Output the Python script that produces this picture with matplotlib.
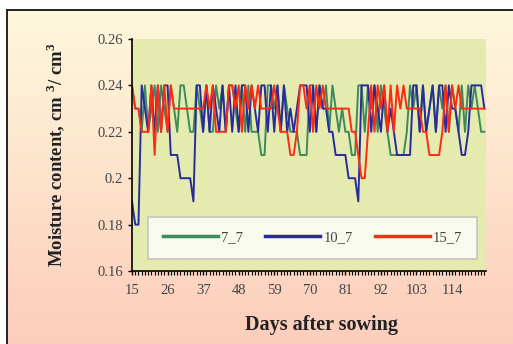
import numpy as np
import matplotlib
matplotlib.use("Agg")
import matplotlib.pyplot as plt

plt.rcParams['font.family'] = ['Liberation Serif', 'DejaVu Serif']
plt.rcParams['mathtext.fontset'] = 'custom'
plt.rcParams['mathtext.rm'] = 'Liberation Serif:bold'

# Soil moisture readings, one per day from day 15 onwards
days = list(range(15, 125))
tick_days = [15, 26, 37, 48, 59, 70, 81, 92, 103, 114]

m_7_7 = [
    0.24, 0.23, 0.23, 0.22, 0.24, 0.22, 0.23, 0.24, 0.22, 0.24,
    0.23, 0.22, 0.24, 0.23, 0.22, 0.24, 0.24, 0.23, 0.22, 0.22,
    0.24, 0.23, 0.22, 0.24, 0.22, 0.22, 0.24, 0.23, 0.24, 0.22,
    0.24, 0.24, 0.23, 0.22, 0.24, 0.22, 0.24, 0.22, 0.22, 0.22,
    0.21, 0.21, 0.24, 0.24, 0.23, 0.24, 0.22, 0.24, 0.23, 0.22,
    0.22, 0.22, 0.21, 0.21, 0.21, 0.24, 0.24, 0.22, 0.24, 0.23,
    0.24, 0.22, 0.24, 0.23, 0.22, 0.23, 0.22, 0.22, 0.21, 0.21,
    0.24, 0.24, 0.22, 0.24, 0.23, 0.24, 0.22, 0.24, 0.23, 0.22,
    0.21, 0.21, 0.21, 0.21, 0.21, 0.22, 0.24, 0.23, 0.24, 0.22,
    0.24, 0.22, 0.23, 0.24, 0.22, 0.24, 0.23, 0.24, 0.22, 0.24,
    0.23, 0.22, 0.24, 0.22, 0.24, 0.23, 0.24, 0.23, 0.22, 0.22,
]

m_10_7 = [
    0.19, 0.18, 0.18, 0.24, 0.23, 0.22, 0.24, 0.22, 0.24, 0.22,
    0.24, 0.24, 0.21, 0.21, 0.21, 0.20, 0.20, 0.20, 0.20, 0.19,
    0.24, 0.24, 0.22, 0.24, 0.22, 0.24, 0.23, 0.22, 0.24, 0.22,
    0.24, 0.22, 0.24, 0.22, 0.24, 0.24, 0.22, 0.24, 0.23, 0.22,
    0.24, 0.24, 0.22, 0.24, 0.22, 0.24, 0.22, 0.24, 0.22, 0.23,
    0.22, 0.23, 0.24, 0.24, 0.24, 0.22, 0.24, 0.22, 0.24, 0.23,
    0.23, 0.22, 0.22, 0.21, 0.21, 0.21, 0.21, 0.20, 0.20, 0.20,
    0.19, 0.24, 0.24, 0.24, 0.22, 0.24, 0.23, 0.22, 0.24, 0.22,
    0.23, 0.22, 0.21, 0.21, 0.21, 0.21, 0.21, 0.24, 0.24, 0.22,
    0.24, 0.22, 0.23, 0.24, 0.22, 0.24, 0.24, 0.22, 0.24, 0.23,
    0.23, 0.22, 0.21, 0.21, 0.22, 0.24, 0.24, 0.24, 0.24, 0.23,
]

m_15_7 = [
    0.24, 0.23, 0.23, 0.22, 0.22, 0.22, 0.24, 0.21, 0.24, 0.22,
    0.24, 0.22, 0.24, 0.23, 0.23, 0.23, 0.23, 0.23, 0.23, 0.23,
    0.23, 0.23, 0.23, 0.24, 0.23, 0.24, 0.22, 0.22, 0.22, 0.22,
    0.24, 0.24, 0.23, 0.24, 0.22, 0.24, 0.23, 0.24, 0.23, 0.24,
    0.23, 0.23, 0.23, 0.23, 0.24, 0.23, 0.22, 0.22, 0.22, 0.21,
    0.21, 0.22, 0.24, 0.24, 0.23, 0.24, 0.22, 0.24, 0.23, 0.24,
    0.23, 0.23, 0.23, 0.23, 0.23, 0.23, 0.23, 0.23, 0.22, 0.22,
    0.21, 0.20, 0.20, 0.22, 0.24, 0.22, 0.24, 0.23, 0.24, 0.22,
    0.24, 0.22, 0.24, 0.23, 0.24, 0.23, 0.23, 0.23, 0.23, 0.23,
    0.22, 0.22, 0.21, 0.21, 0.21, 0.21, 0.22, 0.24, 0.22, 0.24,
    0.23, 0.24, 0.23, 0.23, 0.23, 0.23, 0.23, 0.23, 0.23, 0.23,
]

series = [("7_7", m_7_7, "#3d8a5c"), ("10_7", m_10_7, "#2a2aa0"), ("15_7", m_15_7, "#ff2a14")]

fig = plt.figure(figsize=(5.13, 3.44), dpi=100, facecolor="white")

# framed panel with a cream-to-peach fade
bg = fig.add_axes([7 / 513, 0, 506 / 513, 334 / 344])
top = np.array([254, 248, 220]) / 255
bot = np.array([252, 205, 188]) / 255
t = np.linspace(0, 1, 200)[:, None]
grad = top[None, :] * (1 - t) + bot[None, :] * t
bg.imshow(grad[:, None, :].repeat(2, axis=1), aspect="auto", extent=[0, 1, 0, 1])
bg.set_xticks([])
bg.set_yticks([])
for s in ["right", "bottom"]:
    bg.spines[s].set_visible(False)
for s in ["top", "left"]:
    bg.spines[s].set_linewidth(1.4)
    bg.spines[s].set_color("#222222")

ax = fig.add_axes([132 / 513, 1 - 271 / 344, 354 / 513, 232 / 344])
ax.set_facecolor("#e5ebae")

x = np.arange(len(days))
for name, vals, col in series:
    ax.plot(x, vals, color=col, lw=1.4, label=name)

ax.set_ylim(0.16, 0.26)
ax.set_yticks([0.16, 0.18, 0.20, 0.22, 0.24, 0.26])
ax.set_yticklabels(["0.16", "0.18", "0.2", "0.22", "0.24", "0.26"])
ax.set_xlim(0, len(days) - 0.5)
ax.set_xticks([days.index(d) for d in tick_days])
ax.set_xticklabels([str(d) for d in tick_days])
ax.set_xticks(x, minor=True)

for s in ["top", "right"]:
    ax.spines[s].set_visible(False)
for s in ["left", "bottom"]:
    ax.spines[s].set_linewidth(1.2)
    ax.spines[s].set_color("black")

ax.tick_params(axis="both", which="major", direction="out", length=3, width=1,
               labelsize=10.5, labelcolor="#444444", color="black")
ax.tick_params(axis="x", which="minor", direction="out", length=3, width=0.8, color="black")
ax.tick_params(axis="x", which="major", pad=6)

ax.set_xlabel("Days after sowing", fontsize=14.5, fontweight="bold", color="#222222")
ax.xaxis.set_label_coords(0.535, -0.19)
ax.set_ylabel("Moisture content, cm $^{3}$/ cm$^{3}$", fontsize=13.5,
              fontweight="bold", color="#222222")
ax.yaxis.set_label_coords(-0.18, 0.5)

leg = ax.legend(loc="lower left", bbox_to_anchor=(0.045, 0.052, 0.93, 0.176),
                mode="expand", ncol=3, frameon=True, fancybox=False,
                handlelength=3.8, handletextpad=0.2, fontsize=10.5,
                borderaxespad=0, borderpad=1.0)
leg.get_frame().set_edgecolor("#bbbbbb")
leg.get_frame().set_linewidth(1.2)
for txt in leg.get_texts():
    txt.set_color("#444444")
for ln in leg.get_lines():
    ln.set_linewidth(2.5)

fig.savefig("out.png", dpi=100)
